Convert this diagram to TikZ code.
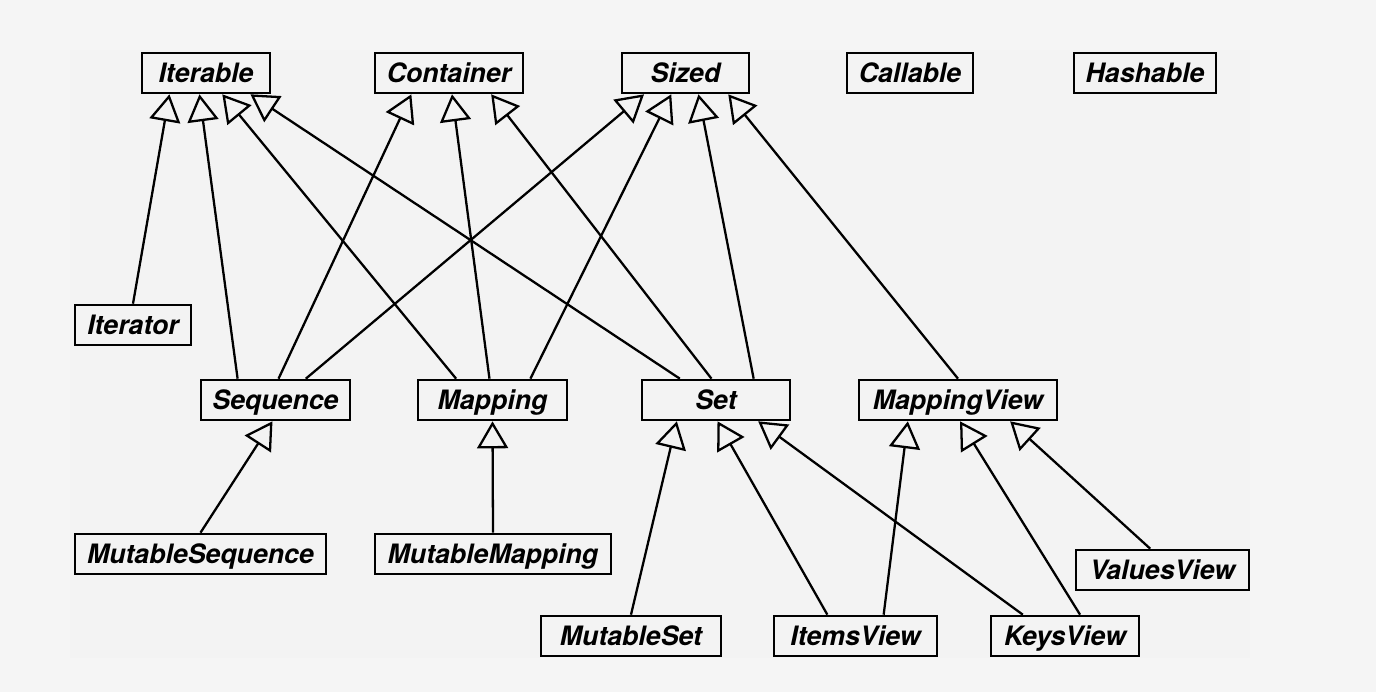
\documentclass[tikz,border=0pt]{standalone}
\usepackage{fontspec}
\setmainfont{TeX Gyre Heros}
\usepackage{tikz}
\usetikzlibrary{calc}
\usetikzlibrary{arrows.meta}
\definecolor{paperGray}{HTML}{F5F5F5}
\definecolor{panelGray}{HTML}{F3F3F3}
\tikzset{every picture/.style={semithick}}
\tikzset{abc/.style={draw,line width=1.5pt,fill=panelGray,inner sep=0pt,minimum height=0.8cm,
    text height=11pt,text depth=0pt,
    font=\bfseries\itshape\fontsize{15.2}{18}\selectfont}}
\tikzset{isa/.style={line width=1.3pt,-{Triangle[length=0.54cm,width=0.62cm,fill=panelGray]}}}

\begin{document}
\begin{tikzpicture}[x=0.02cm,y=-0.02cm]
        \fill [paperGray] (0,0) rectangle (1376,692);
        \fill [panelGray] (70,50) rectangle (1250,658);
        \useasboundingbox (0,0) rectangle (1376,692);
        % top row
        \node [abc,minimum width=2.56cm] (Iterable) at (206,73) {Iterable};
        \node [abc,minimum width=2.96cm] (Container) at (449,73) {Container};
        \node [abc,minimum width=2.54cm] (Sized) at (685.5,73) {Sized};
        \node [abc,minimum width=2.52cm] (Callable) at (910,73) {Callable};
        \node [abc,minimum width=2.84cm] (Hashable) at (1145,73) {Hashable};
        % middle
        \node [abc,minimum width=2.32cm] (Iterator) at (133,325) {Iterator};
        \node [abc,minimum width=2.98cm] (Sequence) at (275.5,400) {Sequence};
        \node [abc,minimum width=2.98cm] (Mapping) at (492.5,400) {Mapping};
        \node [abc,minimum width=2.96cm] (Set) at (716,400) {Set};
        \node [abc,minimum width=3.96cm] (MappingView) at (958,400) {MappingView};
        % bottom
        \node [abc,minimum width=5.02cm] (MutableSequence) at (200.5,554) {MutableSequence};
        \node [abc,minimum width=4.72cm] (MutableMapping) at (493,554) {MutableMapping};
        \node [abc,minimum width=3.46cm] (ValuesView) at (1162.5,570) {ValuesView};
        \node [abc,minimum width=3.60cm] (MutableSet) at (631,636) {MutableSet};
        \node [abc,minimum width=3.26cm] (ItemsView) at (855.5,636) {ItemsView};
        \node [abc,minimum width=2.96cm] (KeysView) at (1065,636) {KeysView};
        % inheritance
        \foreach \sub/\s/\super/\t in {Iterator/.5/Iterable/.22, Sequence/.25/Iterable/.45,
                Mapping/.26/Iterable/.625, Set/.26/Iterable/.84,
                Sequence/.52/Container/.25, Mapping/.48/Container/.52, Set/.47/Container/.78,
                Sequence/.70/Sized/.18, Mapping/.75/Sized/.39, Set/.75/Sized/.60, MappingView/.5/Sized/.83,
                MutableSequence/.5/Sequence/.48, MutableMapping/.5/Mapping/.5,
                MutableSet/.5/Set/.24, ItemsView/.33/Set/.51, KeysView/.22/Set/.78,
                ItemsView/.67/MappingView/.25, KeysView/.60/MappingView/.51, ValuesView/.43/MappingView/.76}
            \draw [isa] ($(\sub.north west)!\s!(\sub.north east)$) -- ($(\super.south west)!\t!(\super.south east)$);
\end{tikzpicture}
\end{document}
